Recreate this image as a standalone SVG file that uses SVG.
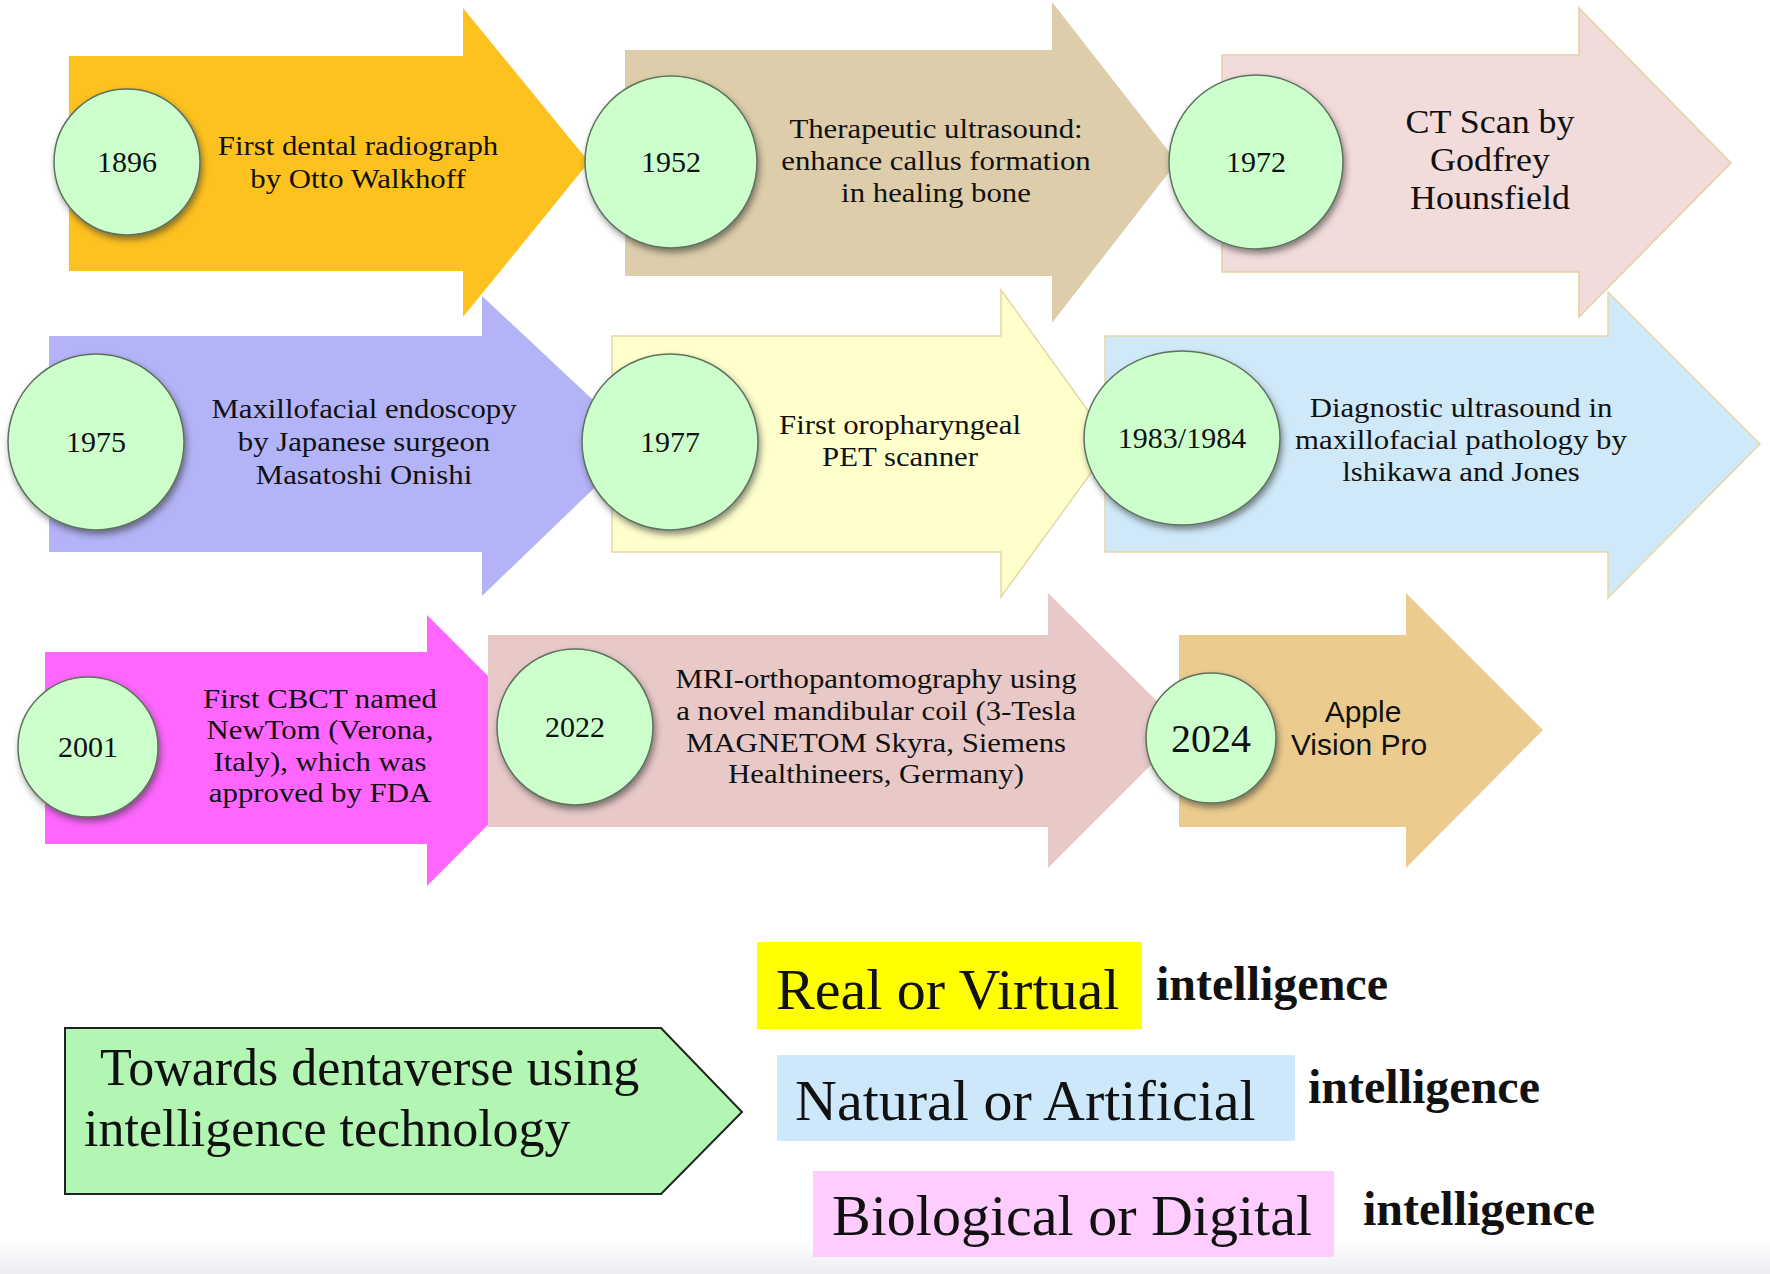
<svg xmlns="http://www.w3.org/2000/svg" width="1770" height="1274" viewBox="0 0 1770 1274">
<defs>
<style>
.t{font-family:"Liberation Serif","Times New Roman",serif;fill:#111;text-anchor:middle;font-size:28px}
.yr{font-family:"Liberation Serif","Times New Roman",serif;fill:#111;text-anchor:middle;font-size:30px}
.sans{font-family:"Liberation Sans",Arial,sans-serif;fill:#111;text-anchor:middle;font-size:30px}
.big{font-family:"Liberation Serif","Times New Roman",serif;fill:#111;font-size:58px}
.intel{font-family:"Liberation Serif","Times New Roman",serif;fill:#111;font-size:48px;font-weight:bold}
.circ{fill:#CCFFCC;stroke:#5E725E;stroke-width:1.5;filter:url(#sh)}
</style>
<filter id="sh" x="-20%" y="-20%" width="150%" height="150%">
<feDropShadow dx="2" dy="4" stdDeviation="3" flood-color="#333" flood-opacity="0.55"/>
</filter>
<linearGradient id="bot" x1="0" y1="0" x2="0" y2="1">
<stop offset="0" stop-color="#ffffff"/>
<stop offset="1" stop-color="#ECECF2"/>
</linearGradient>
</defs>
<rect width="1770" height="1274" fill="#FFFFFF"/>
<rect x="0" y="1240" width="1770" height="34" fill="url(#bot)"/>

<g id="row2">
<g id="n1975">
<path d="M49,336 H482 V296 L640,444 L482,596 V552 H49 Z" fill="#B3B3F8"/>
<circle class="circ" cx="96" cy="442" r="88"/>
<text class="yr" x="96" y="452">1975</text>
<g transform="translate(364,0) scale(1.1,1)">
<text class="t" x="0" y="418">Maxillofacial endoscopy</text>
<text class="t" x="0" y="451">by Japanese surgeon</text>
<text class="t" x="0" y="484">Masatoshi Onishi</text>
</g>
</g>
<g id="n1977">
<path d="M612,336 H1001 V290 L1112,444 L1001,597 V552 H612 Z" fill="#FFFFCC" stroke="#E6D6A8" stroke-width="1.5"/>
<circle class="circ" cx="670" cy="442" r="88"/>
<text class="yr" x="670" y="452">1977</text>
<g transform="translate(900,0) scale(1.1,1)">
<text class="t" x="0" y="434">First oropharyngeal</text>
<text class="t" x="0" y="466">PET scanner</text>
</g>
</g>
<g id="n1983">
<path d="M1105,336 H1608 V292 L1760,444 L1608,598 V552 H1105 Z" fill="#CFE9F9" stroke="#E6D6A8" stroke-width="1.5"/>
<ellipse class="circ" cx="1182" cy="438" rx="98" ry="87"/>
<text class="yr" x="1182" y="448">1983/1984</text>
<g transform="translate(1461,0) scale(1.1,1)">
<text class="t" x="0" y="417">Diagnostic ultrasound in</text>
<text class="t" x="0" y="449">maxillofacial pathology by</text>
<text class="t" x="0" y="481">lshikawa and Jones</text>
</g>
</g>
</g>

<g id="row1">
<g id="n1896">
<path d="M69,56 H463 V8 L589,162 L463,317 V271 H69 Z" fill="#FDC21F"/>
<circle class="circ" cx="127" cy="162" r="73"/>
<text class="yr" x="127" y="172">1896</text>
<g transform="translate(358,0) scale(1.1,1)">
<text class="t" x="0" y="155">First dental radiograph</text>
<text class="t" x="0" y="188">by Otto Walkhoff</text>
</g>
</g>
<g id="n1952">
<path d="M625,50 H1052 V2 L1177,162 L1052,323 V276 H625 Z" fill="#DDCDAA"/>
<circle class="circ" cx="671" cy="162" r="86"/>
<text class="yr" x="671" y="172">1952</text>
<g transform="translate(936,0) scale(1.1,1)">
<text class="t" x="0" y="138">Therapeutic ultrasound:</text>
<text class="t" x="0" y="170">enhance callus formation</text>
<text class="t" x="0" y="202">in healing bone</text>
</g>
</g>
<g id="n1972">
<path d="M1222,55 H1579 V8 L1731,163 L1579,317 V272 H1222 Z" fill="#F2DCDB" stroke="#E3CFA0" stroke-width="1.5"/>
<circle class="circ" cx="1256" cy="162" r="87"/>
<text class="yr" x="1256" y="172">1972</text>
<g transform="translate(1490,0) scale(1.09,1)">
<text class="t" x="0" y="133" style="font-size:33px">CT Scan by</text>
<text class="t" x="0" y="171" style="font-size:33px">Godfrey</text>
<text class="t" x="0" y="209" style="font-size:33px">Hounsfield</text>
</g>
</g>
</g>

<g id="row3">
<g id="n2001">
<path d="M45,652 H427 V615 L562,750 L427,886 V844 H45 Z" fill="#FF66FF"/>
<circle class="circ" cx="88" cy="747" r="70"/>
<text class="yr" x="88" y="757">2001</text>
<g transform="translate(320,0) scale(1.1,1)">
<text class="t" x="0" y="708">First CBCT named</text>
<text class="t" x="0" y="739">NewTom (Verona,</text>
<text class="t" x="0" y="771">Italy), which was</text>
<text class="t" x="0" y="802">approved by FDA</text>
</g>
</g>
<g id="n2022">
<path d="M488,635 H1048 V593 L1186,730 L1048,868 V827 H488 Z" fill="#E8C9C8"/>
<circle class="circ" cx="575" cy="727" r="78"/>
<text class="yr" x="575" y="737">2022</text>
<g transform="translate(876,0) scale(1.1,1)">
<text class="t" x="0" y="688">MRI-orthopantomography using</text>
<text class="t" x="0" y="720">a novel mandibular coil (3-Tesla</text>
<text class="t" x="0" y="752">MAGNETOM Skyra, Siemens</text>
<text class="t" x="0" y="783">Healthineers, Germany)</text>
</g>
</g>
<g id="n2024">
<path d="M1179,635 H1406 V593 L1543,730 L1406,868 V827 H1179 Z" fill="#ECCC8E"/>
<circle class="circ" cx="1211" cy="738" r="65"/>
<text class="yr" x="1211" y="752" style="font-size:40px">2024</text>
<text class="sans" x="1363" y="722">Apple</text>
<text class="sans" x="1359" y="755">Vision Pro</text>
</g>
</g>

<g id="dentaverse">
<path d="M65,1028 H661 L742,1112 L661,1194 H65 Z" fill="#B3F5B3" stroke="#222" stroke-width="2"/>
<text class="big" x="100" y="1085" style="font-size:52px">Towards dentaverse using</text>
<text class="big" x="84" y="1146" style="font-size:52px">intelligence technology</text>
</g>

<g id="real">
<rect x="757" y="942" width="385" height="87" fill="#FFFF00"/>
<text class="big" x="776" y="1009">Real or Virtual</text>
<text class="intel" x="1156" y="1000">intelligence</text>
</g>
<g id="natural">
<rect x="777" y="1055" width="518" height="86" fill="#CCE8FA"/>
<text class="big" x="795" y="1120">Natural or Artificial</text>
<text class="intel" x="1308" y="1103">intelligence</text>
</g>
<g id="biological">
<rect x="813" y="1171" width="521" height="86" fill="#FFCCFF"/>
<text class="big" x="832" y="1235">Biological or Digital</text>
<text class="intel" x="1363" y="1225">intelligence</text>
</g>
<g id="connectors"/>
</svg>
